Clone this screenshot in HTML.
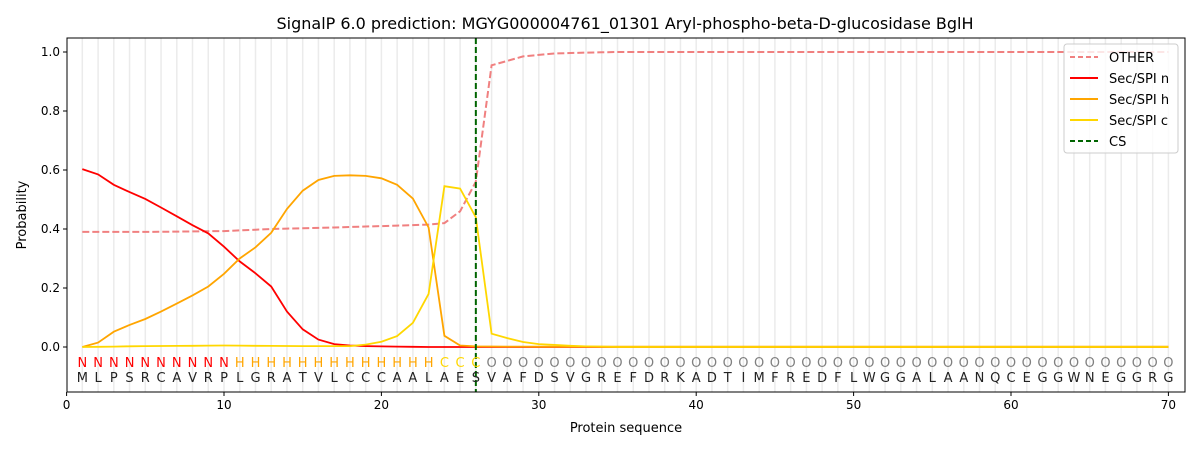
<!DOCTYPE html>
<html><head><meta charset="utf-8"><style>
body{margin:0;background:#fff;width:1200px;height:450px;overflow:hidden}
svg text{font-family:"DejaVu Sans","Liberation Sans",sans-serif}
</style></head><body>
<svg id="s" width="1200" height="450" xmlns="http://www.w3.org/2000/svg"></svg>
<script>
const L=67,R=1185,T=38,B=392;
const X=v=>66.6+v*15.74, Y=v=>347-v*295;
const seq="MLPSRCAVRPLGRATVLCCCAALAESVAFDSVGREFDRKADTIMFREDFLWGGALAANQCEGGWNEGGRG";
let o='';
o+=`<text x="625" y="29" font-size="16" text-anchor="middle">SignalP 6.0 prediction: MGYG000004761_01301 Aryl-phospho-beta-D-glucosidase BglH</text>`;
for(let i=1;i<=70;i++)o+=`<line x1="${X(i)}" y1="${T}" x2="${X(i)}" y2="${B}" stroke="#ebebeb" stroke-width="1.5"/>`;
function pts(arr){return arr.map((v,i)=>X(i+1).toFixed(1)+','+Y(v).toFixed(1)).join(' ')}
function interp(o){let a=[];const k=Object.keys(o).map(Number).sort((a,b)=>a-b);for(let i=1;i<=70;i++){if(o[i]!==undefined){a.push(o[i]);continue}let lo=k.filter(x=>x<i).pop(),hi=k.find(x=>x>i);if(hi===undefined){a.push(o[lo]);continue}a.push(o[lo]+(o[hi]-o[lo])*(i-lo)/(hi-lo))}return a}
const O=interp({1:.39,5:.39,10:.393,13:.4,17:.405,20:.41,23:.415,24:.42,25:.46,26:.56,27:.955,28:.97,29:.985,30:.99,31:.995,33:.998,35:1,70:1});
const N=interp({1:.603,2:.585,3:.55,4:.525,5:.502,6:.473,7:.443,8:.413,9:.385,10:.34,11:.29,12:.25,13:.205,14:.12,15:.06,16:.025,17:.01,18:.005,19:.003,20:.002,23:0,70:0});
const H=interp({1:0,2:.015,3:.052,4:.075,5:.095,6:.12,7:.147,8:.175,9:.205,10:.248,11:.3,12:.338,13:.387,14:.468,15:.53,16:.566,17:.58,18:.582,19:.58,20:.572,21:.55,22:.503,23:.405,24:.038,25:.005,26:.002,30:.001,70:.001});
const C=interp({1:0,5:.003,10:.005,15:.003,18:.003,19:.008,20:.018,21:.037,22:.082,23:.18,24:.545,25:.537,26:.44,27:.045,28:.03,29:.017,30:.01,31:.007,32:.004,33:.002,35:0,70:0});
o+=`<polyline points="${pts(O)}" fill="none" stroke="#f08080" stroke-width="2" stroke-dasharray="7,3"/>`;
o+=`<polyline points="${pts(N)}" fill="none" stroke="#ff0000" stroke-width="1.8"/>`;
o+=`<polyline points="${pts(H)}" fill="none" stroke="#ffa500" stroke-width="1.8"/>`;
o+=`<polyline points="${pts(C)}" fill="none" stroke="#ffd700" stroke-width="1.8"/>`;
o+=`<line x1="${X(26)}" y1="${T}" x2="${X(26)}" y2="${B}" stroke="#006400" stroke-width="2" stroke-dasharray="6,3"/>`;
for(let i=1;i<=70;i++){let l,c;if(i<=10){l='N';c='#ff0000'}else if(i<=23){l='H';c='#ffa500'}else if(i<=26){l='C';c='#ffd700'}else{l='O';c='#808080'}
o+=`<text x="${X(i)}" y="367" font-size="13" fill="${c}" text-anchor="middle">${l}</text>`;
o+=`<text x="${X(i)}" y="382" font-size="13" fill="#222" text-anchor="middle">${seq[i-1]}</text>`}
o+=`<rect x="${L}" y="${T}" width="${R-L}" height="${B-T}" fill="none" stroke="#000" stroke-width="1"/>`;
for(let v=0;v<=70;v+=10){o+=`<line x1="${X(v)}" y1="${B}" x2="${X(v)}" y2="${B+4}" stroke="#000"/><text x="${X(v)}" y="${B+17}" font-size="12" text-anchor="middle">${v}</text>`}
for(let k=0;k<=5;k++){let v=k*.2,y=Y(v);o+=`<line x1="${L-4}" y1="${y}" x2="${L}" y2="${y}" stroke="#000"/><text x="${L-7}" y="${y+4}" font-size="12" text-anchor="end">${v.toFixed(1)}</text>`}
o+=`<text x="626" y="432" font-size="13" text-anchor="middle">Protein sequence</text>`;
o+=`<text transform="translate(26,215) rotate(-90)" font-size="13" text-anchor="middle">Probability</text>`;
o+=`<rect x="1064" y="44" width="114" height="109" rx="3" fill="#fff" fill-opacity="0.8" stroke="#ccc"/>`;
const lg=[['OTHER','#f08080','5,3'],['Sec/SPI n','#ff0000',''],['Sec/SPI h','#ffa500',''],['Sec/SPI c','#ffd700',''],['CS','#006400','5,3']];
lg.forEach((e,i)=>{let y=57+i*21;o+=`<line x1="1070" y1="${y}" x2="1098" y2="${y}" stroke="${e[1]}" stroke-width="2" ${e[2]?`stroke-dasharray="${e[2]}"`:''}/><text x="1109" y="${y+5}" font-size="13">${e[0]}</text>`});
document.getElementById('s').innerHTML=o;
</script>
</body></html>
